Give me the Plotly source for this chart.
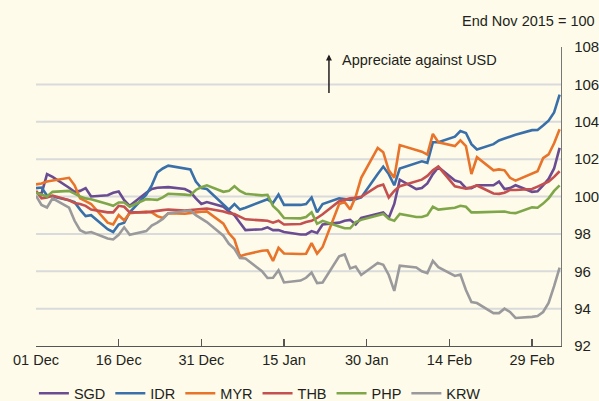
import plotly.graph_objects as go

dates = [
    "2015-12-01", "2015-12-02", "2015-12-03", "2015-12-04",
    "2015-12-07", "2015-12-08", "2015-12-09", "2015-12-10", "2015-12-11",
    "2015-12-14", "2015-12-15", "2015-12-16", "2015-12-17", "2015-12-18",
    "2015-12-21", "2015-12-22", "2015-12-23", "2015-12-24", "2015-12-25",
    "2015-12-28", "2015-12-29", "2015-12-30", "2015-12-31", "2016-01-01",
    "2016-01-04", "2016-01-05", "2016-01-06", "2016-01-07", "2016-01-08",
    "2016-01-11", "2016-01-12", "2016-01-13", "2016-01-14", "2016-01-15",
    "2016-01-18", "2016-01-19", "2016-01-20", "2016-01-21", "2016-01-22",
    "2016-01-25", "2016-01-26", "2016-01-27", "2016-01-28", "2016-01-29",
    "2016-02-01", "2016-02-02", "2016-02-03", "2016-02-04", "2016-02-05",
    "2016-02-08", "2016-02-09", "2016-02-10", "2016-02-11", "2016-02-12",
    "2016-02-15", "2016-02-16", "2016-02-17", "2016-02-18", "2016-02-19",
    "2016-02-22", "2016-02-23", "2016-02-24", "2016-02-25", "2016-02-26",
    "2016-02-29", "2016-03-01", "2016-03-02", "2016-03-03", "2016-03-04",
    "2016-03-05",
]

sgd = [100.2, 100.15, 101.2, 101.05, 100.47, 100.25, 100.3, 100.45, 100.0,
       100.07, 100.2, 100.27, 99.8, 99.5, 100.2, 100.4, 100.47, 100.5, 100.5,
       100.4, 100.25, 99.9, 99.6, 99.7, 99.45, 99.2, 99.0, 98.6, 98.2,
       98.25, 98.35, 98.2, 98.2, 98.1, 97.97, 97.97, 98.15, 98.05, 98.5,
       98.6, 98.7, 98.75, 98.5, 98.85, 99.1, 99.15, 98.85, 99.6, 100.9,
       100.4, 100.45, 100.7, 101.2, 101.57, 100.85, 100.77, 100.45, 100.45, 100.6,
       100.6, 100.8, 100.4, 100.45, 100.6, 100.25, 100.28, 100.6, 100.94, 101.5,
       102.6]
idr = [100.45, 100.48, 100.05, 100.0, 99.8, 99.7, 99.3, 98.95, 99.0,
       98.25, 98.1, 98.5, 98.6, 99.15, 100.1, 100.6, 101.28, 101.5, 101.65,
       101.5, 101.45, 100.8, 100.45, 100.4, 99.6, 99.3, 99.6, 99.3, 99.4,
       99.75, 99.85, 99.65, 100.1, 99.55, 99.55, 99.6, 99.95, 99.16, 99.6,
       99.9, 99.85, 99.82, 99.85, 99.95, 101.2, 101.6, 101.2, 100.6, 101.5,
       101.8, 101.88, 101.8, 102.9, 102.9, 103.2, 103.5, 103.4, 102.8, 102.52,
       102.8, 103.0, 103.1, 103.2, 103.3, 103.55, 103.56, 103.8, 104.06, 104.5,
       105.45]
myr = [100.65, 100.7, 100.8, 100.85, 101.0, 100.6, 99.9, 99.75, 99.6,
       98.6, 98.5, 99.0, 98.72, 99.1, 99.2, 99.15, 98.95, 98.85, 99.1,
       99.08, 99.1, 99.15, 99.18, 99.2, 98.55, 98.03, 97.7, 96.8, 96.9,
       97.1, 97.12, 96.55, 97.25, 96.95, 96.92, 96.94, 97.5, 96.94, 97.3,
       99.6, 99.7, 99.3, 100.0, 101.0, 102.6, 102.37, 101.4, 101.0, 102.75,
       102.5, 102.4, 102.24, 103.35, 102.9, 102.7, 103.0, 102.7, 101.2, 102.1,
       101.4, 101.45, 101.4, 101.0, 100.85, 101.25, 101.35, 102.05, 102.25, 102.85,
       103.6]
thb = [100.3, 99.9, 99.95, 100.05, 99.8, 99.65, 99.6, 99.5, 99.3,
       99.15, 99.15, 99.5, 99.45, 99.15, 99.15, 99.2, 99.23, 99.27, 99.3,
       99.25, 99.28, 99.3, 99.32, 99.36, 99.2, 99.1, 99.06, 98.9, 98.78,
       98.72, 98.7, 98.6, 98.7, 98.5, 98.53, 98.63, 98.7, 98.85, 99.05,
       99.75, 99.83, 99.9, 99.93, 99.98, 100.55, 100.64, 99.95, 100.3, 100.55,
       100.8, 100.9, 101.1, 101.4, 101.6, 100.55, 100.48, 100.42, 100.5, 100.59,
       100.16, 100.14, 100.2, 100.35, 100.35, 100.4, 100.53, 100.65, 100.8, 101.05,
       101.35]
php = [100.2, 100.1, 100.0, 100.25, 100.3, 100.15, 100.0, 99.9, 99.85,
       99.6, 99.5, 99.68, 99.68, 99.45, 99.86, 99.84, 99.82, 99.95, 100.15,
       100.1, 100.07, 100.35, 100.5, 100.6, 100.25, 100.3, 100.55, 100.3, 100.15,
       100.06, 100.09, 99.5, 99.22, 98.85, 98.83, 98.9, 99.15, 98.54, 98.7,
       98.4, 98.3, 98.3, 98.63, 98.75, 99.0, 99.07, 98.8, 98.7, 99.07,
       98.9, 98.9, 99.0, 99.45, 99.3, 99.4, 99.5, 99.45, 99.15, 99.15,
       99.2, 99.22, 99.2, 99.13, 99.11, 99.42, 99.4, 99.62, 99.9, 100.3,
       100.6]
krw = [100.05, 99.55, 99.41, 99.9, 99.4, 98.7, 98.2, 98.05, 98.1,
       97.75, 97.7, 97.95, 98.35, 97.95, 98.15, 98.45, 98.6, 98.8, 99.1,
       99.2, 99.25, 99.0, 98.8, 98.63, 97.9, 97.47, 97.2, 96.71, 96.68,
       96.0, 95.64, 95.65, 96.05, 95.4, 95.5, 95.65, 95.93, 95.37, 95.4,
       96.8, 96.9, 96.15, 96.25, 95.8, 96.45, 96.35, 95.8, 94.95, 96.3,
       96.2, 96.0, 95.9, 96.55, 96.22, 95.75, 95.82, 95.0, 94.35, 94.3,
       93.76, 93.76, 94.0, 93.82, 93.5, 93.56, 93.6, 93.82, 94.3, 95.2,
       96.2]

series_names = ["SGD", "IDR", "MYR", "THB", "PHP", "KRW"]
series_values = [sgd, idr, myr, thb, php, krw]
series_colors = ["#6a4c93", "#3a70a9", "#e8732a", "#c4504f", "#7fa74a", "#9a9a9c"]

x_tick_dates = ["2015-12-01", "2015-12-16", "2015-12-31", "2016-01-15",
                "2016-01-30", "2016-02-14", "2016-02-29"]
x_tick_labels = ["01 Dec", "16 Dec", "31 Dec", "15 Jan", "30 Jan", "14 Feb", "29 Feb"]
y_ticks = [92, 94, 96, 98, 100, 102, 104, 106, 108]
grid_values = [94, 96, 98, 100, 102, 104, 106]

BG = "#fefbea"
FONT = "Liberation Sans, Arial, sans-serif"
TXT = "#231f20"

fig = go.Figure()

for gv in grid_values:
    fig.add_shape(type="line", xref="paper", yref="y", x0=0, x1=1, y0=gv, y1=gv,
                  line=dict(color="#d9dadb", width=2), layer="below")

for name, vals, col in zip(series_names, series_values, series_colors):
    fig.add_trace(go.Scatter(x=dates, y=vals, name=name, mode="lines",
                             line=dict(color=col, width=2.6)))

fig.update_layout(
    width=599, height=401,
    margin=dict(l=36, r=38, t=47, b=55, autoexpand=False),
    paper_bgcolor=BG, plot_bgcolor=BG,
    font=dict(family=FONT, size=14, color=TXT),
    showlegend=True,
    legend=dict(orientation="h", x=-0.004, xanchor="left", y=-0.105, yanchor="top",
                font=dict(size=14.5, color=TXT), bgcolor="rgba(0,0,0,0)",
                itemwidth=30, tracegroupgap=0),
    xaxis=dict(
        type="date", range=["2015-12-01", "2016-03-05 06:00"],
        tickvals=x_tick_dates, ticktext=x_tick_labels,
        ticks="inside", ticklen=7, tickwidth=1.2, tickcolor="#555555",
        showline=True, linecolor="#555555", linewidth=1.2,
        showgrid=False, zeroline=False, fixedrange=True, automargin=False,
        tickfont=dict(size=14.5, color=TXT),
    ),
    yaxis=dict(
        side="right", range=[92, 108], tickvals=y_ticks,
        ticks="", showline=True, linecolor="#777777", linewidth=1.2,
        showgrid=False, zeroline=False, fixedrange=True, automargin=False,
        tickfont=dict(size=15, color=TXT), ticklabelstandoff=9,
    ),
    annotations=[
        dict(text="End Nov 2015 = 100", xref="paper", yref="paper",
             x=1.0686, y=1.087, xanchor="right", yanchor="middle",
             showarrow=False, font=dict(size=14.5, color=TXT)),
        dict(text="Appreciate against USD", xref="paper", yref="paper",
             x=0.579, y=0.957, xanchor="left", yanchor="middle",
             showarrow=False, font=dict(size=14.5, color=TXT)),
        dict(text="", xref="paper", yref="paper", x=0.558, y=0.975,
             showarrow=True, arrowhead=2, arrowsize=0.8, arrowwidth=1.5,
             arrowcolor="#231f20", ax=0, ay=40, standoff=0),
    ],
)

fig.write_html(
    "out.html",
    config={"displayModeBar": False, "staticPlot": True},
    post_script="document.body.style.margin='0';document.body.style.background='#fefbea';",
)
